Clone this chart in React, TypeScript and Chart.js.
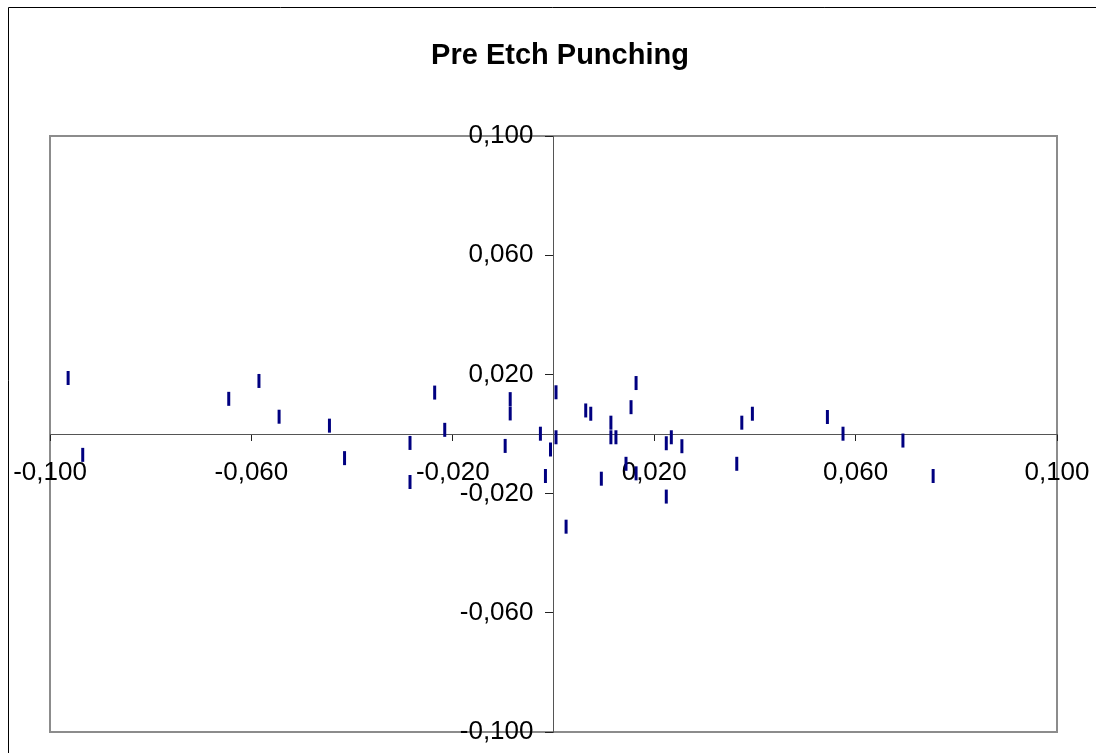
import React, { useEffect, useRef } from "react";
import { Chart, registerables } from "chart.js";

Chart.register(...registerables);

const chartTitle = "Pre Etch Punching";
const xValues = [
  -0.0964, -0.0935, -0.0645, -0.0585, -0.0545, -0.0445, -0.0415, -0.0285, -0.0285, -0.0236,
  -0.0216, -0.0086, -0.0086, -0.0096, -0.0026, -0.0006, -0.0016, 0.0005, 0.0005, 0.0025,
  0.0064, 0.0074, 0.0114, 0.0114, 0.0124, 0.0095, 0.0144, 0.0154, 0.0164, 0.0164,
  0.0224, 0.0234, 0.0224, 0.0255, 0.0364, 0.0374, 0.0395, 0.0544, 0.0575, 0.0694, 0.0754,
];
const yValues = [
  0.0188, -0.007, 0.0118, 0.0178, 0.0058, 0.0028, -0.0081, -0.003, -0.0161, 0.0139,
  0.0014, 0.0117, 0.0069, -0.004, 0.0001, -0.0052, -0.0141, 0.014, -0.0011, -0.0311,
  0.0079, 0.0068, 0.0038, -0.0011, -0.0011, -0.015, -0.01, 0.009, 0.0171, -0.0132,
  -0.0031, -0.0011, -0.021, -0.0041, -0.01, 0.0038, 0.0068, 0.0057, 0.0001, -0.0022, -0.0141,
];
const xTicks = [-0.1, -0.06, -0.02, 0.02, 0.06, 0.1];
const yTicks = [-0.1, -0.06, -0.02, 0.02, 0.06, 0.1];

const FONT = "'Liberation Sans', Arial, sans-serif";
const fmt = (v: number) => v.toFixed(3).replace(".", ",");

const zeroPadding = (s: any) => {
  s.paddingLeft = 0;
  s.paddingRight = 0;
  s.paddingTop = 0;
  s.paddingBottom = 0;
};

const framePlugin = {
  id: "frame",
  beforeDraw(chart: any) {
    const ctx = chart.ctx;
    const a = chart.chartArea;
    ctx.save();
    ctx.fillStyle = "#ffffff";
    ctx.fillRect(0, 0, chart.width, chart.height);
    ctx.strokeStyle = "#000000";
    ctx.lineWidth = 1;
    ctx.beginPath();
    ctx.moveTo(8.5, chart.height + 2);
    ctx.lineTo(8.5, 7.5);
    ctx.lineTo(chart.width + 2, 7.5);
    ctx.stroke();
    ctx.strokeStyle = "#8c8c8c";
    ctx.lineWidth = 2;
    ctx.strokeRect(a.left, a.top, a.right - a.left, a.bottom - a.top);
    ctx.fillStyle = "#000000";
    ctx.font = `bold 29px ${FONT}`;
    ctx.textAlign = "center";
    ctx.textBaseline = "alphabetic";
    ctx.fillText(chartTitle, 560, 64);
    ctx.restore();
  },
};

export default function App() {
  const ref = useRef<HTMLCanvasElement>(null);
  useEffect(() => {
    if (!ref.current) return;
    const data = xValues.map((x, i) => ({ x, y: yValues[i] }));
    const chart = new Chart(ref.current, {
      type: "scatter",
      data: {
        datasets: [
          {
            data,
            pointStyle: "line",
            rotation: 90,
            radius: 7,
            hoverRadius: 7,
            borderWidth: 3,
            borderColor: "#000080",
            backgroundColor: "#000080",
          } as any,
        ],
      },
      options: {
        animation: false,
        responsive: false,
        events: [],
        layout: { padding: { left: 50, right: 39, top: 136, bottom: 21 } },
        plugins: { legend: { display: false }, tooltip: { enabled: false }, title: { display: false } },
        scales: {
          x: {
            type: "linear",
            min: -0.1,
            max: 0.1,
            position: "center",
            afterBuildTicks: (s: any) => {
              s.ticks = xTicks.map((v) => ({ value: v }));
            },
            afterFit: zeroPadding,
            grid: { drawOnChartArea: false, drawTicks: true, tickLength: 6, color: "#222222", lineWidth: 1 },
            border: { display: true, color: "#555555", width: 1 },
            ticks: {
              autoSkip: false,
              maxRotation: 0,
              padding: 17.5,
              color: "#000000",
              font: { family: FONT, size: 26 },
              callback: (v: any) => fmt(Number(v)),
            },
          },
          y: {
            type: "linear",
            min: -0.1,
            max: 0.1,
            position: "center",
            afterBuildTicks: (s: any) => {
              s.ticks = yTicks.map((v) => ({ value: v }));
            },
            afterFit: zeroPadding,
            grid: { drawOnChartArea: false, drawTicks: true, tickLength: 8, color: "#222222", lineWidth: 1 },
            border: { display: true, color: "#555555", width: 1 },
            ticks: {
              autoSkip: false,
              padding: 12,
              color: "#000000",
              font: { family: FONT, size: 26 },
              callback: (v: any) => fmt(Number(v)),
            },
          },
        },
      },
      plugins: [framePlugin],
    });
    return () => chart.destroy();
  }, []);
  return (
    <div style={{ position: "fixed", left: 0, top: 0, width: 1096, height: 753, overflow: "hidden", background: "#fff" }}>
      <canvas ref={ref} width={1096} height={753} style={{ display: "block", width: 1096, height: 753 }} />
    </div>
  );
}
